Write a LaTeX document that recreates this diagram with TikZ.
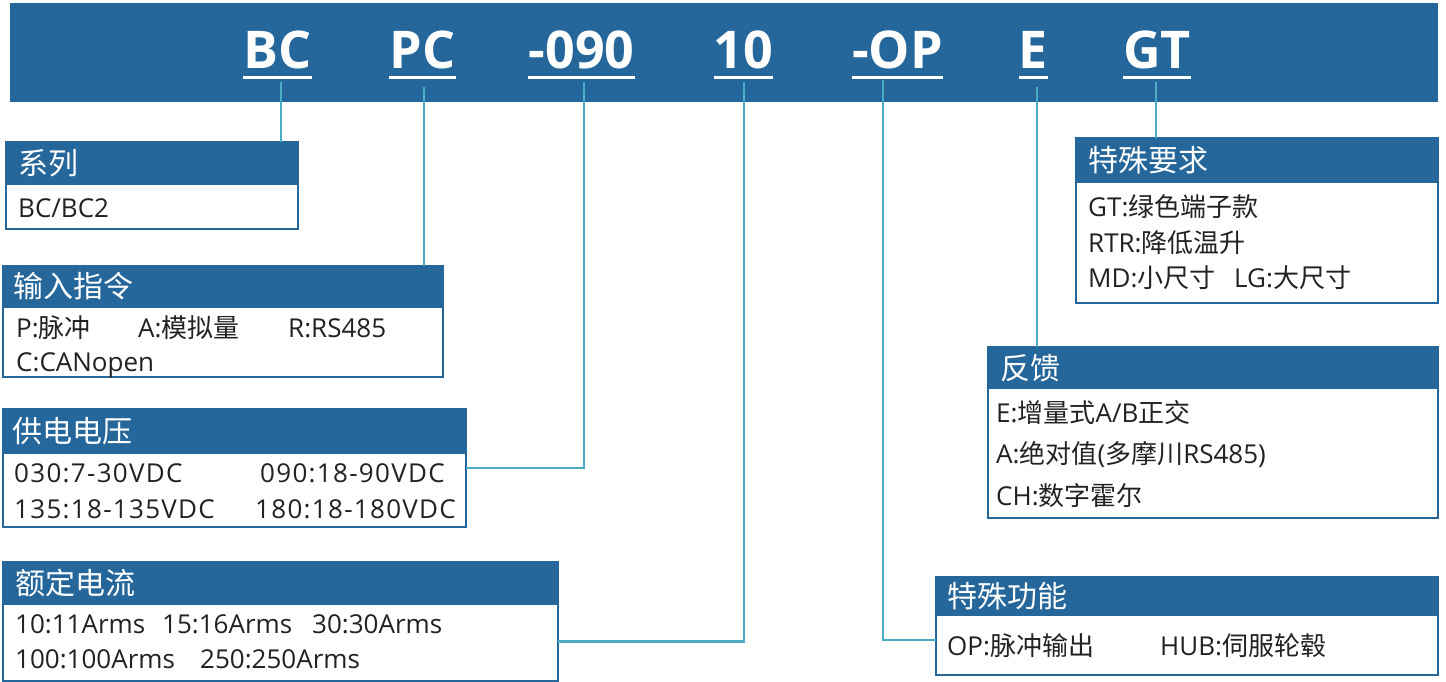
\documentclass[tikz,border=0pt]{standalone}
\usepackage{fontspec}
\setmainfont{Open Sans}
\newfontfamily\cjk{Noto Sans CJK SC}
\newcommand{\zh}[1]{{\cjk #1}}
\definecolor{bblue}{HTML}{25669B}
\definecolor{teal}{HTML}{4BACC6}
\definecolor{txt}{HTML}{222222}
\begin{document}
\begin{tikzpicture}[x=1pt,y=-1pt,
  banner/.style={fill=bblue,draw=none},
  bn/.style={anchor=base,inner sep=0pt,text=white,font=\fontsize{52}{60}\selectfont\bfseries},
  ul/.style={white,line width=2.6pt},
  conn/.style={teal,line width=2.4pt},
  frame/.style={draw=bblue,fill=white,line width=2pt,anchor=north west,inner sep=0pt,outer sep=0pt},
  head/.style={fill=bblue,draw=bblue,line width=2pt,anchor=north west,inner sep=0pt,outer sep=0pt},
  title/.style={anchor=west,inner sep=0pt,text=white,font=\cjk\fontsize{30}{36}\selectfont},
  body/.style={anchor=base west,inner sep=0pt,text=txt,font=\fontsize{26}{30}\selectfont},
  wide/.style={body,font=\fontsize{26}{30}\selectfont\addfontfeature{LetterSpace=5}}]
\useasboundingbox (0,0) rectangle (1446,682);

% banner
\fill[banner] (10,3) rectangle (1438,102);
\node[bn] (nBC) at (277.5,69) {BC};
\node[bn] (nPC) at (422.5,69) {PC};
\node[bn] (nV) at (581.5,69) {-090};
\node[bn] (nI) at (743.5,69) {10};
\node[bn] (nOP) at (897.5,69) {-OP};
\node[bn] (nE) at (1033.5,69) {E};
\node[bn] (nGT) at (1157,69) {GT};
\foreach \n in {nBC,nPC,nV,nI,nOP,nE,nGT}
  \draw[ul] ([yshift=-8.5pt]\n.base west) -- ([yshift=-8.5pt]\n.base east);

% 系列
\node[frame,minimum width=292pt,minimum height=87pt] (sys) at (6,142) {};
\node[head,minimum width=292pt,minimum height=42pt] (sysh) at (6,142) {};
\node[title] (syst) at (18,163) {系列};
\node[body] (sys1) at (18,217) {BC/BC2};

% 输入指令
\node[frame,minimum width=440pt,minimum height=111pt] (cmd) at (3,266) {};
\node[head,minimum width=440pt,minimum height=41pt] (cmdh) at (3,266) {};
\node[title] (cmdt) at (13,286.5) {输入指令};
\node[body] (cmd1) at (16,337) {P:\zh{脉冲}};
\node[body] (cmd2) at (138,337) {A:\zh{模拟量}};
\node[body] (cmd3) at (288,337) {R:RS485};
\node[body] (cmd4) at (16,371) {C:CANopen};

% 供电电压
\node[frame,minimum width=463pt,minimum height=118pt] (volt) at (3,409) {};
\node[head,minimum width=463pt,minimum height=44pt] (volth) at (3,409) {};
\node[title] (voltt) at (12,431) {供电电压};
\node[wide] (volt1) at (14,482) {030:7-30VDC};
\node[wide] (volt2) at (260,482) {090:18-90VDC};
\node[wide] (volt3) at (14,518) {135:18-135VDC};
\node[wide] (volt4) at (255,518) {180:18-180VDC};

% 额定电流
\node[frame,minimum width=555pt,minimum height=119pt] (cur) at (3,562) {};
\node[head,minimum width=555pt,minimum height=42pt] (curh) at (3,562) {};
\node[title] (curt) at (15,583) {额定电流};
\node[body] (cur1) at (15,633) {10:11Arms};
\node[body] (cur2) at (162,633) {15:16Arms};
\node[body] (cur3) at (312,633) {30:30Arms};
\node[body] (cur4) at (15,668) {100:100Arms};
\node[body] (cur5) at (200,668) {250:250Arms};

% 特殊要求
\node[frame,minimum width=362pt,minimum height=165pt] (req) at (1076,138) {};
\node[head,minimum width=362pt,minimum height=44pt] (reqh) at (1076,138) {};
\node[title] (reqt) at (1088,160) {特殊要求};
\node[body] (req1) at (1088,216) {GT:\zh{绿色端子款}};
\node[body] (req2) at (1088,252) {RTR:\zh{降低温升}};
\node[body] (req3) at (1088,287) {MD:\zh{小尺寸}};
\node[body] (req4) at (1234,287) {LG:\zh{大尺寸}};

% 反馈
\node[frame,minimum width=450pt,minimum height=171pt] (fb) at (988,347) {};
\node[head,minimum width=450pt,minimum height=41pt] (fbh) at (988,347) {};
\node[title] (fbt) at (1000,368) {反馈};
\node[body] (fb1) at (996,422) {E:\zh{增量式}A/B\zh{正交}};
\node[body] (fb2) at (996,463) {A:\zh{绝对值}(\zh{多摩川}RS485)};
\node[body] (fb3) at (996,505) {CH:\zh{数字霍尔}};

% 特殊功能
\node[frame,minimum width=502pt,minimum height=98pt] (func) at (936,577) {};
\node[head,minimum width=502pt,minimum height=38pt] (funch) at (936,577) {};
\node[title] (funct) at (947,596) {特殊功能};
\node[body] (func1) at (947,655) {OP:\zh{脉冲输出}};
\node[body] (func2) at (1160,655) {HUB:\zh{伺服轮毂}};

% connectors
\coordinate (tBC) at (281,82);
\coordinate (tPC) at (424,87);
\coordinate (tV) at (584,82);
\coordinate (tI) at (744,82);
\coordinate (tOP) at (883,80);
\coordinate (tE) at (1037,87);
\coordinate (tGT) at (1156,82);
\draw[conn] (tBC) -- (sys.north -| tBC);
\draw[conn] (tPC) -- (cmd.north -| tPC);
\draw[conn] (tV) |- (volt.east);
\draw[conn] (tI) |- ([yshift=-20pt]cur.east);
\draw[conn] (tOP) |- ([yshift=-14pt]func.west);
\draw[conn] (tE) -- (fb.north -| tE);
\draw[conn] (tGT) -- (req.north -| tGT);
\end{tikzpicture}
\end{document}
